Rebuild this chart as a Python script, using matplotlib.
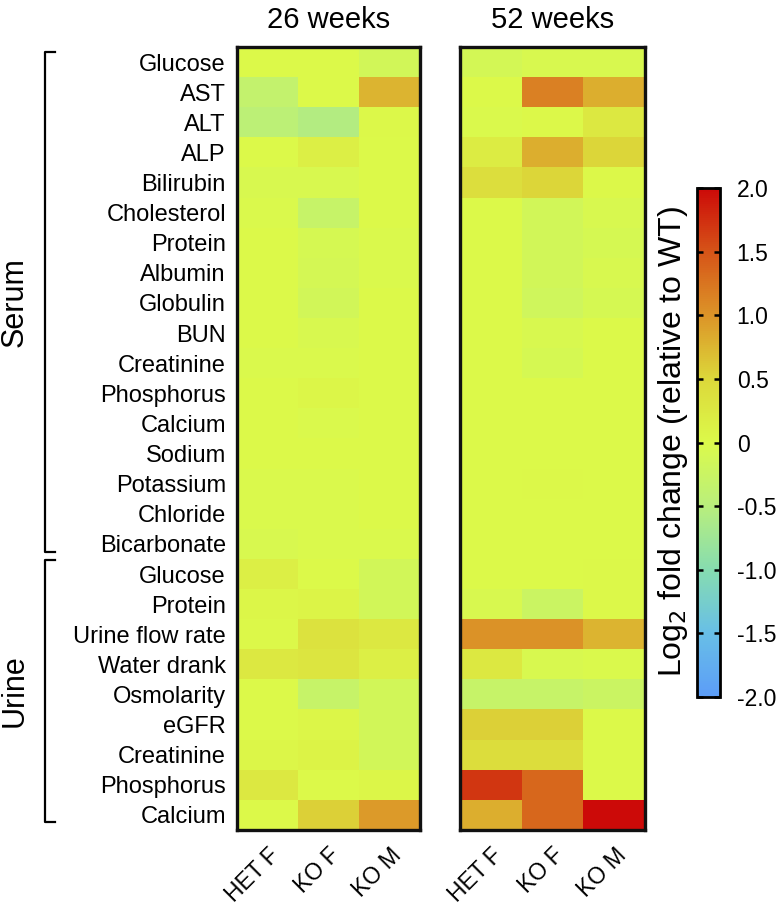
import numpy as np
import matplotlib
matplotlib.use("Agg")
import matplotlib.pyplot as plt
import matplotlib.transforms as mtrans
from matplotlib.colors import LinearSegmentedColormap

plt.rcParams['font.family'] = ['Liberation Sans', 'DejaVu Sans']

serum = ["Glucose", "AST", "ALT", "ALP", "Bilirubin", "Cholesterol", "Protein",
         "Albumin", "Globulin", "BUN", "Creatinine", "Phosphorus", "Calcium",
         "Sodium", "Potassium", "Chloride", "Bicarbonate"]
urine = ["Glucose", "Protein", "Urine flow rate", "Water drank", "Osmolarity",
         "eGFR", "Creatinine", "Phosphorus", "Calcium"]
rows = serum + urine
groups = ["HET F", "KO F", "KO M"]

# log2 fold change, 26 weeks (HET F, KO F, KO M)
wk26 = [
    [0.0, 0.0, -0.15],
    [-0.35, 0.0, 0.75],
    [-0.45, -0.55, 0.02],
    [0.0, 0.15, 0.0],
    [-0.05, -0.05, 0.0],
    [-0.02, -0.3, 0.0],
    [0.0, -0.08, -0.03],
    [0.0, -0.1, -0.03],
    [0.0, -0.15, 0.0],
    [0.0, -0.05, 0.0],
    [-0.03, -0.03, 0.0],
    [0.0, 0.05, 0.0],
    [0.0, -0.02, 0.0],
    [0.0, 0.0, 0.0],
    [-0.03, -0.02, 0.0],
    [-0.03, -0.02, 0.0],
    [-0.05, -0.03, -0.02],
    [0.15, 0.0, -0.15],
    [0.05, 0.08, -0.15],
    [0.02, 0.35, 0.25],
    [0.25, 0.3, 0.15],
    [0.0, -0.3, -0.15],
    [0.0, 0.05, -0.15],
    [0.05, 0.1, -0.15],
    [0.25, 0.0, 0.05],
    [0.0, 0.55, 0.95],
]

# log2 fold change, 52 weeks (HET F, KO F, KO M)
wk52 = [
    [-0.12, -0.05, -0.05],
    [0.0, 1.15, 0.8],
    [-0.02, 0.02, 0.25],
    [0.2, 0.8, 0.5],
    [0.4, 0.5, 0.02],
    [0.0, -0.15, -0.05],
    [0.0, -0.15, -0.08],
    [0.0, -0.15, -0.05],
    [0.0, -0.18, -0.08],
    [0.0, -0.05, 0.0],
    [0.0, -0.08, 0.0],
    [0.0, 0.0, 0.0],
    [0.0, 0.0, 0.0],
    [0.0, 0.0, 0.0],
    [0.0, 0.02, 0.0],
    [0.0, 0.0, 0.0],
    [0.0, 0.0, 0.0],
    [0.0, 0.0, 0.02],
    [-0.05, -0.25, 0.02],
    [1.0, 1.0, 0.75],
    [0.25, -0.05, -0.02],
    [-0.3, -0.3, -0.25],
    [0.55, 0.55, 0.0],
    [0.42, 0.42, 0.0],
    [1.7, 1.35, 0.0],
    [0.8, 1.35, 2.0],
]

titles = ["26 weeks", "52 weeks"]
cbar_ticks = [2.0, 1.5, 1.0, 0.5, 0, -0.5, -1.0, -1.5, -2.0]
cbar_ticklabels = ["2.0", "1.5", "1.0", "0.5", "0", "-0.5", "-1.0", "-1.5", "-2.0"]

cmap = LinearSegmentedColormap.from_list("fc", [
    (0.0, "#5c9df8"), (0.125, "#68bfe6"), (0.25, "#86dcb0"), (0.375, "#b9ef7c"),
    (0.5, "#dcfa4a"), (0.625, "#dcd83a"), (0.75, "#dc9428"), (0.875, "#d65518"),
    (1.0, "#cc0a08")])

W, H = 776, 909
fig = plt.figure(figsize=(W / 100, H / 100), dpi=100)

def box(x0, y0, x1, y1):
    return [x0 / W, 1 - y1 / H, (x1 - x0) / W, (y1 - y0) / H]

shift = mtrans.ScaledTranslation(7 / 100, 0, fig.dpi_scale_trans)

panels = [box(237, 47, 420, 830), box(460, 47, 645, 830)]
for i, (pos, data) in enumerate(zip(panels, [wk26, wk52])):
    ax = fig.add_axes(pos)
    im = ax.imshow(np.array(data), cmap=cmap, vmin=-2, vmax=2, aspect='auto',
                   interpolation='nearest')
    for s in ax.spines.values():
        s.set_linewidth(2.4)
        s.set_color("#111111")
    ax.set_xticks(range(3))
    ax.set_xticklabels(groups, rotation=45, ha='right', va='top',
                       rotation_mode='anchor', fontsize=16.5)
    for lab in ax.get_xticklabels():
        lab.set_transform(lab.get_transform() + shift)
    ax.tick_params(axis='x', length=0, pad=10)
    if i == 0:
        ax.set_yticks(range(len(rows)))
        ax.set_yticklabels(rows, fontsize=17)
        ax.tick_params(axis='y', length=0, pad=8)
    else:
        ax.set_yticks([])
    ax.set_title(titles[i], fontsize=21, pad=14)

# colorbar
cax = fig.add_axes(box(697, 188, 720, 697))
cb = fig.colorbar(im, cax=cax, ticks=cbar_ticks)
cb.ax.set_yticklabels(cbar_ticklabels, fontsize=16.5)
cb.outline.set_linewidth(2.0)
cb.ax.tick_params(direction='in', length=4, width=1.8, left=True, right=True, pad=12)
fig.text(673 / W, 1 - 442 / H, "Log$_2$ fold change (relative to WT)", rotation=90,
         ha='center', va='center', fontsize=23)

# group brackets
def bracket(y0, y1, label):
    x0, x1 = 45 / W, 55 / W
    fig.lines.append(plt.Line2D([x1, x0, x0, x1], [1 - y0 / H, 1 - y0 / H, 1 - y1 / H, 1 - y1 / H],
                                transform=fig.transFigure, color='black', lw=1.6))
    fig.text(15 / W, 1 - (y0 + y1) / 2 / H, label, rotation=90, ha='center', va='center',
             fontsize=22)

bracket(52, 552, "Serum")
bracket(560, 822, "Urine")

fig.savefig("out.png", dpi=100)
